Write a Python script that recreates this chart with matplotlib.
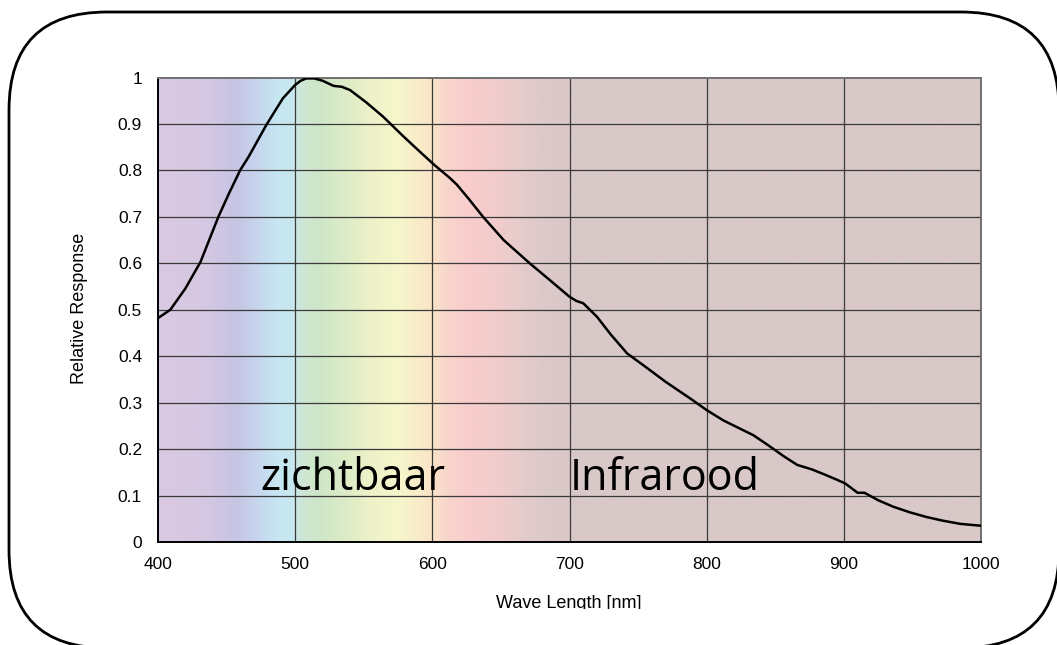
import numpy as np
import matplotlib
matplotlib.use('Agg')
import matplotlib.pyplot as plt
from matplotlib.colors import LinearSegmentedColormap
from matplotlib.patches import FancyBboxPatch
from matplotlib.transforms import Bbox

wavelength = [400, 409, 420, 431, 444, 452, 460, 466, 479, 491, 500, 504, 508,
              514, 520, 528, 534, 540, 552, 564, 579, 591, 601, 613, 618, 627,
              637, 652, 671, 686, 700, 705, 710, 720, 730, 742, 755, 770, 788,
              800, 812, 825, 834, 845, 856, 866, 877, 887, 895, 901, 906, 910,
              915, 925, 936, 948, 960, 972, 985, 1000]
response = [0.482, 0.500, 0.546, 0.603, 0.700, 0.752, 0.801, 0.829, 0.898,
            0.955, 0.984, 0.993, 0.998, 0.998, 0.993, 0.982, 0.980, 0.973,
            0.946, 0.916, 0.873, 0.840, 0.813, 0.783, 0.769, 0.737, 0.700,
            0.650, 0.600, 0.563, 0.528, 0.519, 0.514, 0.485, 0.447, 0.406,
            0.378, 0.345, 0.309, 0.284, 0.262, 0.243, 0.230, 0.208, 0.185,
            0.166, 0.156, 0.144, 0.134, 0.126, 0.115, 0.106, 0.106, 0.090,
            0.076, 0.064, 0.054, 0.046, 0.039, 0.035]

x_ticks = [400, 500, 600, 700, 800, 900, 1000]
y_ticks = [0, 0.1, 0.2, 0.3, 0.4, 0.5, 0.6, 0.7, 0.8, 0.9, 1]
y_labels = ['0', '0.1', '0.2', '0.3', '0.4', '0.5', '0.6', '0.7', '0.8', '0.9', '1']

# Spectrumkleuren op golflengte
spectrum_nm = [400, 430, 455, 472, 485, 497, 505, 515, 530, 555, 575, 590, 600,
               612, 630, 650, 680, 700, 1000]
spectrum_col = ['#dac9e2', '#d6c8e2', '#c8c4e4', '#c6d6ee', '#c6e6f2', '#c8e8f0',
                '#cfe6d3', '#cce6c8', '#d8eac6', '#eef2c8', '#f6f6cc', '#f8ecc8',
                '#fae2c8', '#f8d4cc', '#f8cccc', '#f0cccc', '#dccaca', '#dac8c8',
                '#d9c8c8']

W, H = 1057, 645


def main():
    fig = plt.figure(figsize=(W / 100, H / 100), dpi=100)

    # Afgeronde rand om de hele figuur (loopt rechts en onder net buiten beeld)
    frame = fig.add_axes([0, 0, 1, 1], zorder=-1)
    frame.set_xlim(0, W)
    frame.set_ylim(H, 0)
    frame.axis('off')
    frame.add_patch(FancyBboxPatch((9, 12), 1050, 636,
                                   boxstyle='round,pad=0,rounding_size=98',
                                   fc='white', ec='black', lw=2))

    ax = fig.add_axes([158 / W, 1 - 542 / H, 823 / W, 464.5 / H])

    pos = [(n - 400) / 600 for n in spectrum_nm]
    cmap = LinearSegmentedColormap.from_list('spec', list(zip(pos, spectrum_col)))
    grad = np.linspace(0, 1, 600).reshape(1, -1)
    ax.imshow(grad, cmap=cmap, aspect='auto', extent=[400, 1000, 0, 1],
              origin='lower', zorder=0)

    for v in x_ticks[1:-1]:
        ax.axvline(v, color='#3a3a3a', lw=0.9, zorder=1)
    for v in y_ticks[1:-1]:
        ax.axhline(v, color='#3a3a3a', lw=0.9, zorder=1)

    ax.plot(wavelength, response, color='black', lw=1.8, zorder=3,
            solid_joinstyle='round', solid_capstyle='round')

    ax.set_xlim(400, 1000)
    ax.set_ylim(0, 1)
    ax.set_xticks(x_ticks)
    ax.set_xticklabels([str(v) for v in x_ticks])
    ax.set_yticks(y_ticks)
    ax.set_yticklabels(y_labels)
    ax.tick_params(length=0, labelsize=12.5)
    ax.tick_params(axis='x', pad=10.5)
    ax.tick_params(axis='y', pad=11.5)
    for lab in ax.get_xticklabels() + ax.get_yticklabels():
        lab.set_family('Liberation Sans')

    for side in ('left', 'bottom'):
        ax.spines[side].set_color('black')
        ax.spines[side].set_linewidth(1.4)
    for side in ('top', 'right'):
        ax.spines[side].set_color('#707070')
        ax.spines[side].set_linewidth(1.4)

    # As-titels (onderkant van de x-titel is afgesneden, zoals in het origineel)
    xl = fig.text(569 / W, 1 - 608 / H, 'Wave Length [nm]', family='Liberation Sans',
                  fontsize=13, ha='center', va='baseline')
    xl.set_clip_box(Bbox([[0, H - 609], [W, H]]))
    xl.set_clip_on(True)
    fig.text(80 / W, 1 - 308.5 / H, 'Relative Response', family='Liberation Sans',
             fontsize=13, ha='center', va='center', rotation=90)

    ax.text(542.4, 0.112, 'zichtbaar', family='Open Sans', fontsize=31,
            ha='center', va='baseline', zorder=4)
    ax.text(769.5, 0.112, 'Infrarood', family='Open Sans', fontsize=31,
            ha='center', va='baseline', zorder=4)

    fig.savefig('out.png', dpi=100)


if __name__ == '__main__':
    main()
